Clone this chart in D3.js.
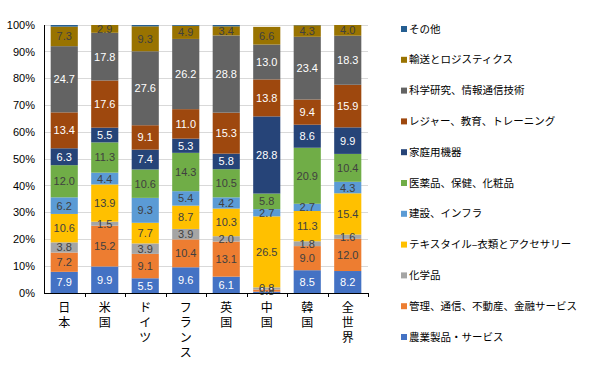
<!DOCTYPE html>
<html><head><meta charset="utf-8">
<script src="https://cdn.jsdelivr.net/npm/d3@7"></script>
<style>body{margin:0;background:#fff;}svg{display:block;}</style>
</head><body>
<svg id="chart" width="600" height="367"></svg>
<script>
const categories = ["日本","米国","ドイツ","フランス","英国","中国","韓国","全世界"];
const seriesNames = ["農業製品・サービス","管理、通信、不動産、金融サービス","化学品","テキスタイル–衣類とアクセサリー","建設、インフラ","医薬品、保健、化粧品","家庭用機器","レジャー、教育、トレーニング","科学研究、情報通信技術","輸送とロジスティクス","その他"];
const colors = ["#4472C4","#ED7D31","#A5A5A5","#FFC000","#5B9BD5","#70AD47","#264478","#9E480E","#636363","#997300","#255E91"];
const labelColors = ["#fff","#404040","#404040","#404040","#404040","#404040","#fff","#fff","#fff","#404040",null];
// values per series, in category order
const agri      = [7.9, 9.9, 5.5, 9.6, 6.1, 0.5, 8.5, 8.2];
const mgmt      = [7.2, 15.2, 9.1, 10.4, 13.1, 0.8, 9.0, 12.0];
const chem      = [3.8, 1.5, 3.9, 3.9, 2.0, 0.8, 1.8, 1.6];
const textile   = [10.6, 13.9, 7.7, 8.7, 10.3, 26.5, 11.3, 15.4];
const construct = [6.2, 4.4, 9.3, 5.4, 4.2, 2.7, 2.7, 4.3];
const pharma    = [12.0, 11.3, 10.6, 14.3, 10.5, 5.8, 20.9, 10.4];
const household = [6.3, 5.5, 7.4, 5.3, 5.8, 28.8, 8.6, 9.9];
const leisure   = [13.4, 17.6, 9.1, 11.0, 15.3, 13.8, 9.4, 15.9];
const science   = [24.7, 17.8, 27.6, 26.2, 28.8, 13.0, 23.4, 18.3];
const transport = [7.3, 2.9, 9.3, 4.9, 3.4, 6.6, 4.3, 4.0];
const other     = [0.6, 0.0, 0.5, 0.3, 0.5, 0.0, 0.1, 0.0];
const yTicks = [0,10,20,30,40,50,60,70,80,90,100];

const seriesValues = [agri,mgmt,chem,textile,construct,pharma,household,leisure,science,transport,other];
const rows = categories.map((c,i)=>{const r={cat:c}; seriesNames.forEach((s,j)=>r[s]=seriesValues[j][i]); return r;});
const stack = d3.stack().keys(seriesNames)(rows);

const svg = d3.select("#chart");
const x = d3.scaleBand().domain(categories).range([44,368]).paddingInner(0.33).paddingOuter(0.165);
const y = d3.scaleLinear().domain([0,100]).range([293,25]);

// gridlines
svg.append("g").selectAll("line").data(yTicks.filter(t=>t>0)).join("line")
  .attr("x1",44).attr("x2",368).attr("y1",d=>y(d)).attr("y2",d=>y(d))
  .attr("stroke","#D9D9D9").attr("stroke-width",1).attr("shape-rendering","crispEdges");

// y labels
svg.append("g").selectAll("text").data(yTicks).join("text")
  .attr("x",35).attr("y",d=>y(d)).attr("dy","0.35em").attr("text-anchor","end")
  .attr("font-family","Liberation Sans, Arial, sans-serif").attr("font-size",11).attr("fill","#000")
  .text(d=>d+"%");

// bars
const g = svg.append("g");
stack.forEach((layer,j)=>{
  g.append("g").attr("fill",colors[j]).selectAll("rect").data(layer).join("rect")
    .attr("x",d=>x(d.data.cat)).attr("width",x.bandwidth())
    .attr("y",d=>y(d[1])).attr("height",d=>Math.max(0,y(d[0])-y(d[1])));
});
// labels
stack.forEach((layer,j)=>{
  if(!labelColors[j]) return;
  g.append("g").selectAll("text").data(layer).join("text")
    .attr("x",d=>x(d.data.cat)+x.bandwidth()/2).attr("y",d=>(y(d[0])+y(d[1]))/2)
    .attr("dy","0.36em").attr("text-anchor","middle")
    .attr("font-family","Liberation Sans, Arial, sans-serif").attr("font-size",11)
    .attr("fill",labelColors[j]).text(d=>(d[1]-d[0]).toFixed(1));
});

// axes
svg.append("line").attr("x1",44.5).attr("x2",44.5).attr("y1",25).attr("y2",293).attr("stroke","#000");
svg.append("line").attr("x1",44).attr("x2",368).attr("y1",293.5).attr("y2",293.5).attr("stroke","#000");
const bounds = categories.map((c,i)=>44 + x.step()*x.paddingOuter()*0 + (368-44)/categories.length*(i+1));
svg.append("g").selectAll("line").data(bounds).join("line")
  .attr("x1",d=>Math.round(d)+0.5).attr("x2",d=>Math.round(d)+0.5).attr("y1",293).attr("y2",297).attr("stroke","#000");

// x labels vertical
categories.forEach(c=>{
  const cx = x(c)+x.bandwidth()/2;
  Array.from(c).forEach((ch,k)=>{
    svg.append("text").attr("x",cx).attr("y",308+k*15).attr("dy","0.35em").attr("text-anchor","middle")
      .attr("font-family","Noto Sans CJK JP, sans-serif").attr("font-size",12).attr("fill","#000").text(ch);
  });
});

// legend
const legendOrder = seriesNames.map((s,i)=>i).reverse();
legendOrder.forEach((j,k)=>{
  const ly = 29 + k*30.8;
  svg.append("rect").attr("x",401).attr("y",ly-3).attr("width",6).attr("height",6).attr("fill",colors[j]);
  svg.append("text").attr("x",409).attr("y",ly).attr("dy","0.35em")
    .attr("font-family","Noto Sans CJK JP, sans-serif").attr("font-size",10.5).attr("fill","#000").text(seriesNames[j]);
});
</script>
</body></html>
